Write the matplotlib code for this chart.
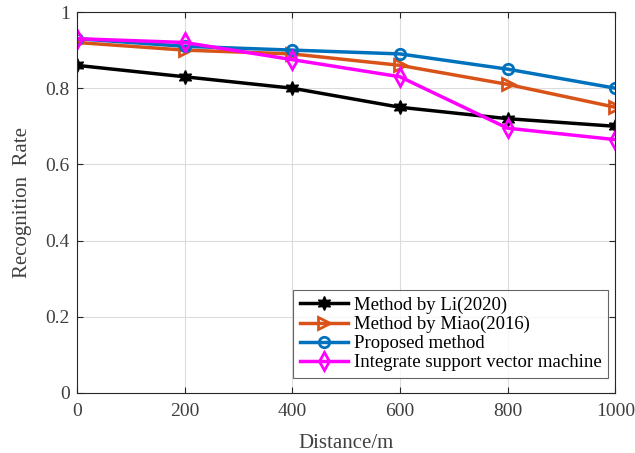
import matplotlib
matplotlib.use("Agg")
import matplotlib.pyplot as plt

distance = [0, 200, 400, 600, 800, 1000]
li2020 = [0.86, 0.83, 0.80, 0.75, 0.72, 0.70]
miao2016 = [0.92, 0.90, 0.89, 0.86, 0.81, 0.75]
proposed = [0.93, 0.91, 0.90, 0.89, 0.85, 0.80]
isvm = [0.93, 0.92, 0.875, 0.83, 0.695, 0.665]
labels = ["Method by Li(2020)", "Method by Miao(2016)", "Proposed method",
          "Integrate support vector machine"]

plt.rcParams['font.family'] = ['Liberation Serif', 'DejaVu Serif']

fig = plt.figure(figsize=(6.35, 4.53), dpi=100)
ax = fig.add_axes([0.121, 0.1325, 0.848, 0.841])

lw = 2.5
ax.plot(distance, li2020, color='black', lw=lw, marker=(6, 1, 0), ms=10,
        mfc='black', mec='black', label=labels[0])
ax.plot(distance, miao2016, color='#D95319', lw=lw, marker='>', ms=9,
        mfc='none', mec='#D95319', mew=2, label=labels[1])
ax.plot(distance, proposed, color='#0072BD', lw=lw, marker='o', ms=7.5,
        mfc='none', mec='#0072BD', mew=2, label=labels[2])
ax.plot(distance, isvm, color='#FF00FF', lw=lw, marker='d', ms=9,
        mfc='none', mec='#FF00FF', mew=2, label=labels[3])

ax.set_xlim(0, 1000)
ax.set_ylim(0, 1)
ax.set_xticks(distance)
ax.set_xticklabels([str(d) for d in distance])
ax.set_yticks([0, 0.2, 0.4, 0.6, 0.8, 1])
ax.set_yticklabels(['0', '0.2', '0.4', '0.6', '0.8', '1'])
ax.tick_params(direction='in', labelsize=14, length=4, top=True, right=True,
               color='#262626', labelcolor='#404040')
ax.tick_params(axis='x', pad=7)
ax.tick_params(axis='y', pad=5)
ax.grid(True, color='#dcdcdc', lw=0.8)
ax.set_axisbelow(True)
for s in ax.spines.values():
    s.set_color('#262626')
    s.set_linewidth(0.8)
ax.set_xlabel('Distance/m', fontsize=15, color='#404040', labelpad=10)
ax.set_ylabel('Recognition  Rate', fontsize=15, color='#404040', labelpad=10)

leg = ax.legend(loc='lower right', bbox_to_anchor=(0.987, 0.04), fontsize=13.5,
                frameon=True, fancybox=False, edgecolor='#404040',
                handlelength=2.6, handletextpad=0.3, borderpad=0.35,
                labelspacing=0.1, borderaxespad=0)
leg.get_frame().set_linewidth(0.8)
for t in leg.get_texts():
    t.set_color('black')

fig.savefig('out.png', dpi=100)
